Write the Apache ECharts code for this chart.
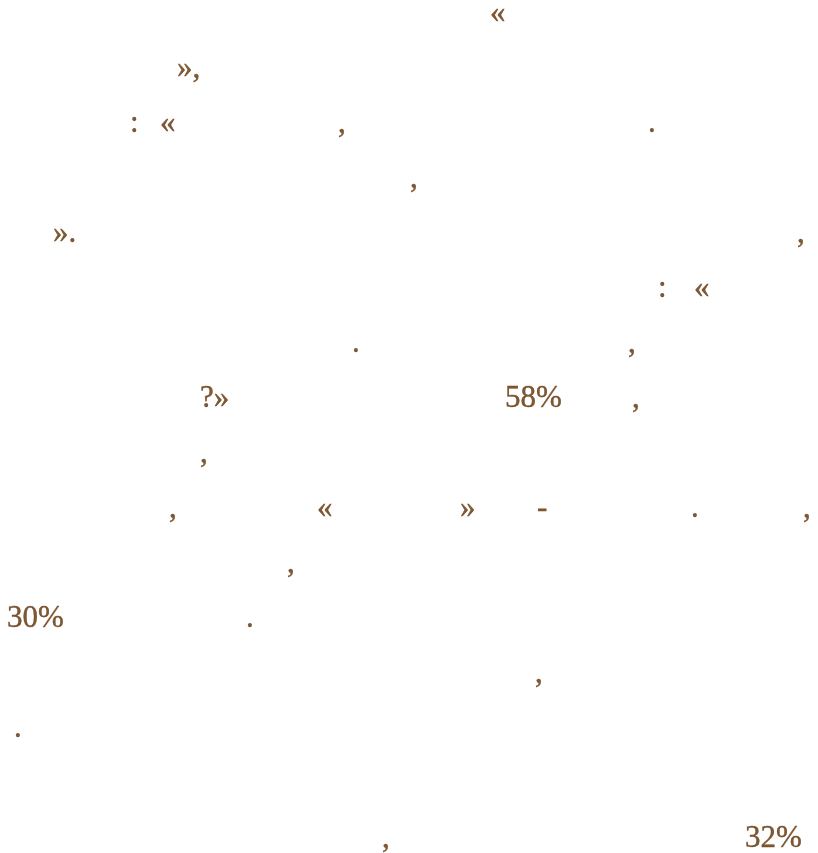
<!DOCTYPE html>
<html><head><meta charset="utf-8">
<style>html,body{margin:0;padding:0;background:#fff}#c{width:818px;height:853px}</style>
<script src="https://cdn.jsdelivr.net/npm/echarts@6/dist/echarts.min.js"></script>
</head><body><div id="c"></div>
<script>
// Visible glyphs: text, horizontal position (px from left), line index
var glyphTexts = ['«', '»,', ':', '«', ',', '.', ',', '».', ',', ':', '«', '.', ',', '?»', '58%', ',', ',', ',', '«', '»', '-', '.', ',', ',', '30%', '.', ',', '.', ',', '32%'];
var glyphX     = [490, 177, 130, 160, 338, 648, 410, 53, 797, 658, 694, 352, 628, 200, 505, 632, 200, 169, 317, 460, 537, 691, 803, 287, 7, 246, 535, 14, 382, 745];
var glyphLine  = [0, 1, 2, 2, 2, 2, 3, 4, 4, 5, 5, 6, 6, 7, 7, 7, 8, 9, 9, 9, 9, 9, 9, 10, 11, 11, 12, 13, 15, 15];

var data = glyphTexts.map(function (t, i) { return { value: [glyphX[i], glyphLine[i]], name: t }; });

var chart = echarts.init(document.getElementById('c'));
chart.setOption({
  animation: false,
  backgroundColor: '#ffffff',
  grid: { left: 0, right: 0, top: 0, bottom: 0 },
  xAxis: { type: 'value', min: 0, max: 818, show: false },
  yAxis: { type: 'value', min: -20 / 55, max: (853 - 20) / 55, inverse: true, show: false },
  series: [{
    type: 'scatter',
    symbolSize: 0,
    data: data,
    silent: true,
    label: {
      show: true,
      position: [0, 0],
      align: 'left',
      verticalAlign: 'bottom',
      offset: [0, 9],
      formatter: function (p) { return p.name; },
      fontFamily: '"Liberation Serif", "Times New Roman", serif',
      fontSize: 31,
      lineHeight: 31,
      color: '#5e2f02',
      textBorderColor: '#5e2f02',
      textBorderWidth: 0.4
    }
  }]
});
</script></body></html>
